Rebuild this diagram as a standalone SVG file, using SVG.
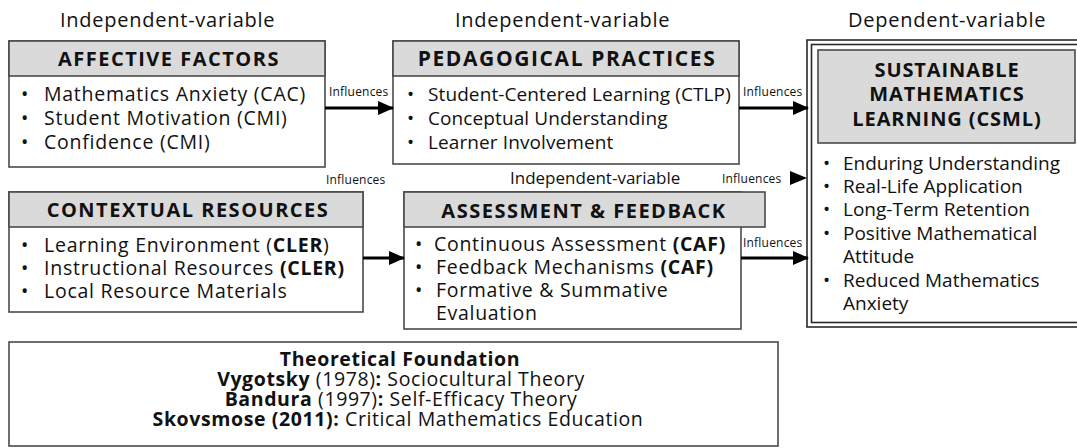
<svg xmlns="http://www.w3.org/2000/svg" width="1077" height="448" viewBox="0 0 1077 448">
  <defs>
    <style>
      .box { fill: #ffffff; stroke: #4a4a4a; stroke-width: 1.6; }
      .hdr { fill: #dadada; stroke: #4a4a4a; stroke-width: 1.6; }
      .t { font-family: "Open Sans", "Liberation Sans", sans-serif; fill: #111; }
      .var { font-size: 20px; letter-spacing: 0.75px; }
      .title { font-size: 20px; font-weight: 700; text-anchor: middle; letter-spacing: 1.5px; }
      .lbl { font-size: 12px; letter-spacing: 0.2px; }
      .b { font-weight: 700; }
      .conn { stroke: #000; stroke-width: 3; fill: none; }
    </style>
    <marker id="arrow" markerUnits="userSpaceOnUse" markerWidth="16" markerHeight="14" refX="15" refY="7" orient="auto">
      <path d="M0,0 L16,7 L0,14 Z" fill="#000"/>
    </marker>
  </defs>

  <rect width="1077" height="448" fill="#ffffff"/>

  <!-- column labels -->
  <g id="labels" class="t">
    <text class="var" x="60" y="27">Independent-variable</text>
    <text class="var" x="455" y="27">Independent-variable</text>
    <text class="var" x="848" y="27">Dependent-variable</text>
    <text x="510" y="184" style="font-size:17px">Independent-variable</text>
  </g>

  <!-- Affective factors -->
  <g id="affective">
    <rect class="box" x="9" y="41" width="316" height="126"/>
    <rect class="hdr" x="9" y="41" width="316" height="35"/>
    <text class="t title" x="169" y="66">AFFECTIVE FACTORS</text>
    <g class="t" style="font-size:19.5px; letter-spacing:0.75px">
      <text x="21" y="101">•</text><text x="44" y="101">Mathematics Anxiety (CAC)</text>
      <text x="21" y="125">•</text><text x="44" y="125">Student Motivation (CMI)</text>
      <text x="21" y="149">•</text><text x="44" y="149">Confidence (CMI)</text>
    </g>
  </g>

  <!-- Pedagogical practices -->
  <g id="pedagogical">
    <rect class="box" x="393" y="41" width="346" height="123"/>
    <rect class="hdr" x="393" y="41" width="346" height="35"/>
    <text class="t title" x="567" y="66" style="font-size:21px; letter-spacing:1.6px">PEDAGOGICAL PRACTICES</text>
    <g class="t" style="font-size:19px; letter-spacing:0.1px">
      <text x="407" y="101">•</text><text x="428" y="101">Student-Centered Learning (CTLP)</text>
      <text x="407" y="125">•</text><text x="428" y="125">Conceptual Understanding</text>
      <text x="407" y="149">•</text><text x="428" y="149">Learner Involvement</text>
    </g>
  </g>

  <!-- Contextual resources -->
  <g id="contextual">
    <rect class="box" x="9" y="192" width="354" height="120"/>
    <rect class="hdr" x="9" y="192" width="354" height="35"/>
    <text class="t title" x="188" y="217">CONTEXTUAL RESOURCES</text>
    <g class="t" style="font-size:19.5px; letter-spacing:0.75px">
      <text x="21" y="252">•</text><text x="44" y="252">Learning Environment (<tspan class="b">CLER</tspan>)</text>
      <text x="21" y="275">•</text><text x="44" y="275">Instructional Resources <tspan class="b">(CLER)</tspan></text>
      <text x="21" y="298">•</text><text x="44" y="298">Local Resource Materials</text>
    </g>
  </g>

  <!-- Assessment and feedback -->
  <g id="assessment">
    <rect class="box" x="404" y="192" width="337" height="137"/>
    <rect class="hdr" x="404" y="192" width="361" height="35"/>
    <text class="t title" x="584" y="218">ASSESSMENT &amp; FEEDBACK</text>
    <g class="t" style="font-size:19.5px; letter-spacing:0.7px">
      <text x="415" y="251">•</text><text x="434" y="251">Continuous Assessment <tspan class="b">(CAF)</tspan></text>
      <text x="415" y="274">•</text><text x="436" y="274">Feedback Mechanisms <tspan class="b">(CAF)</tspan></text>
      <text x="415" y="297">•</text><text x="436" y="297">Formative &amp; Summative</text>
      <text x="436" y="320">Evaluation</text>
    </g>
  </g>

  <!-- Sustainable mathematics learning (outcome) -->
  <g id="csml">
    <rect x="807" y="40" width="280" height="287" fill="#ffffff" stroke="#2a2a2a" stroke-width="1.6"/>
    <rect x="811.5" y="44.5" width="280" height="278" fill="none" stroke="#2a2a2a" stroke-width="1.6"/>
    <rect class="hdr" x="818" y="50" width="257" height="93"/>
    <g class="t title" style="letter-spacing:0.9px">
      <text x="947" y="77">SUSTAINABLE</text>
      <text x="947" y="101">MATHEMATICS</text>
      <text x="947" y="126">LEARNING (CSML)</text>
    </g>
    <g class="t" style="font-size:19px">
      <text x="823" y="170">•</text><text x="843" y="170">Enduring Understanding</text>
      <text x="823" y="193">•</text><text x="843" y="193">Real-Life Application</text>
      <text x="823" y="216">•</text><text x="843" y="216">Long-Term Retention</text>
      <text x="823" y="240">•</text><text x="843" y="240">Positive Mathematical</text>
      <text x="843" y="263">Attitude</text>
      <text x="823" y="287">•</text><text x="843" y="287">Reduced Mathematics</text>
      <text x="843" y="310">Anxiety</text>
    </g>
  </g>

  <!-- Theoretical foundation -->
  <g id="theory">
    <rect class="box" x="9" y="342" width="769" height="104"/>
    <g class="t" style="font-size:19.5px; letter-spacing:0.6px; text-anchor:middle">
      <text x="400" y="366" class="b">Theoretical Foundation</text>
      <text x="401" y="386"><tspan class="b">Vygotsky</tspan> (1978)<tspan class="b">:</tspan> Sociocultural Theory</text>
      <text x="401" y="406"><tspan class="b">Bandura</tspan> (1997)<tspan class="b">:</tspan> Self-Efficacy Theory</text>
      <text x="398" y="426"><tspan class="b">Skovsmose (2011):</tspan> Critical Mathematics Education</text>
    </g>
  </g>

  <!-- connectors -->
  <g id="connectors">
    <line class="conn" x1="325" y1="108" x2="393" y2="108" marker-end="url(#arrow)"/>
    <line class="conn" x1="739" y1="108" x2="808" y2="108" marker-end="url(#arrow)"/>
    <line class="conn" x1="363" y1="258" x2="404" y2="258" marker-end="url(#arrow)"/>
    <line class="conn" x1="741" y1="258" x2="808" y2="258" marker-end="url(#arrow)"/>
    <path d="M790,171 L807,178 L790,185 Z" fill="#000"/>
    <g class="t lbl">
      <text x="329" y="96">Influences</text>
      <text x="743" y="96">Influences</text>
      <text x="326" y="184">Influences</text>
      <text x="722" y="183">Influences</text>
      <text x="743" y="247">Influences</text>
    </g>
  </g>
</svg>
